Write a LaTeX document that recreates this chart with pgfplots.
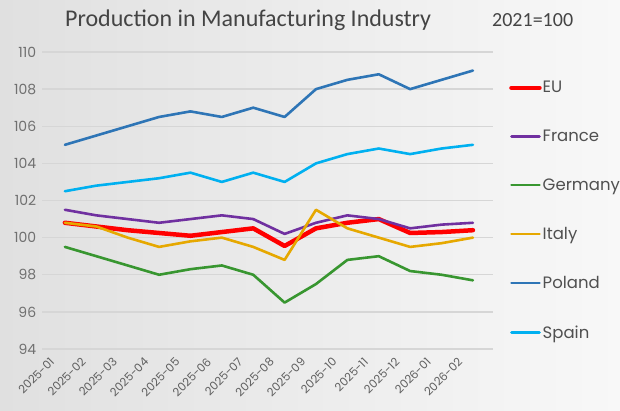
\documentclass[border=0pt]{standalone}
\usepackage{fontspec}
\setmainfont{Poppins}
\newfontfamily\titlefont{Carlito}
\usepackage{pgfplots}
\pgfplotsset{compat=1.18}
\usetikzlibrary{backgrounds,calc}

\definecolor{cEU}{RGB}{255,0,0}
\definecolor{cFR}{RGB}{112,48,160}
\definecolor{cDE}{RGB}{56,150,48}
\definecolor{cIT}{RGB}{230,168,0}
\definecolor{cPL}{RGB}{46,117,182}
\definecolor{cES}{RGB}{0,176,240}
\definecolor{ticktext}{RGB}{112,112,112}
\definecolor{xticktext}{RGB}{96,96,96}
\definecolor{legtext}{RGB}{80,80,80}
\definecolor{titletext}{RGB}{68,68,68}
\definecolor{gridc}{RGB}{214,214,214}
\definecolor{bgleft}{RGB}{224,224,224}
\definecolor{bgright}{RGB}{248,248,248}

\begin{document}
\begin{tikzpicture}[x=1pt,y=1pt]
\begin{axis}[
  scale only axis, width=451pt, height=297pt,
  xmin=-0.73, xmax=13.64, ymin=94, ymax=110,
  ytick={94,96,...,110},
  xtick={0,...,13},
  xticklabels={2025-01,2025-02,2025-03,2025-04,2025-05,2025-06,2025-07,2025-08,2025-09,2025-10,2025-11,2025-12,2026-01,2026-02},
  axis line style={draw=none},
  major tick length=0pt,
  ymajorgrids, grid style={gridc, line width=1.3pt},
  /pgf/number format/assume math mode=true,
  yticklabel style={font=\fontsize{14}{16}\selectfont, text=ticktext, xshift=-2.3pt},
  xticklabel style={font=\fontsize{11.5}{13}\selectfont, text=xticktext, xshift=-12pt, yshift=-10pt, rotate=45, anchor=east, inner sep=1pt},
  legend style={at={(1.0355,0.9085)}, anchor=north west, draw=none, fill=none,
     font=\fontsize{16.5}{19}\selectfont, text=legtext, row sep=31.5pt, inner sep=0pt,
     nodes={inner xsep=1pt}},
  legend cell align=left,
  legend image code/.code={\draw[#1] (0pt,0pt) -- (28pt,0pt);},
  every axis plot/.append style={line join=round, line cap=round},
]
\coordinate (O) at (rel axis cs:0,0);
\addplot[cEU, line width=4.5pt] coordinates {(0,100.8)(1,100.6)(2,100.4)(3,100.25)(4,100.1)(5,100.3)(6,100.5)(7,99.55)(8,100.5)(9,100.8)(10,101.0)(11,100.25)(12,100.3)(13,100.4)};
\addlegendentry{EU}
\addplot[cFR, line width=2.6pt] coordinates {(0,101.5)(1,101.2)(2,101.0)(3,100.8)(4,101.0)(5,101.2)(6,101.0)(7,100.2)(8,100.8)(9,101.2)(10,101.0)(11,100.5)(12,100.7)(13,100.8)};
\addlegendentry{France}
\addplot[cDE, line width=2.6pt] coordinates {(0,99.5)(1,99.0)(2,98.5)(3,98.0)(4,98.3)(5,98.5)(6,98.0)(7,96.5)(8,97.5)(9,98.8)(10,99.0)(11,98.2)(12,98.0)(13,97.7)};
\addlegendentry{Germany}
\addplot[cIT, line width=2.6pt] coordinates {(0,100.8)(1,100.6)(2,100.0)(3,99.5)(4,99.8)(5,100.0)(6,99.5)(7,98.8)(8,101.5)(9,100.5)(10,100.0)(11,99.5)(12,99.7)(13,100.0)};
\addlegendentry{Italy}
\addplot[cPL, line width=2.6pt] coordinates {(0,105.0)(1,105.5)(2,106.0)(3,106.5)(4,106.8)(5,106.5)(6,107.0)(7,106.5)(8,108.0)(9,108.5)(10,108.8)(11,108.0)(12,108.5)(13,109.0)};
\addlegendentry{Poland}
\addplot[cES, line width=2.6pt] coordinates {(0,102.5)(1,102.8)(2,103.0)(3,103.2)(4,103.5)(5,103.0)(6,103.5)(7,103.0)(8,104.0)(9,104.5)(10,104.8)(11,104.5)(12,104.8)(13,105.0)};
\addlegendentry{Spain}
\end{axis}
\coordinate (BL) at ($(O)+(-42,-61)$);
\begin{scope}[on background layer]
\shade[left color=bgleft, right color=bgright] (BL) rectangle ++(620,410);
\end{scope}
\node[font=\titlefont\fontsize{24}{28}\selectfont, text=titletext, anchor=base west, inner sep=0pt] at ($(BL)+(65,383.3)$) {Production in Manufacturing Industry};
\node[font=\titlefont\fontsize{20}{24}\selectfont, text=titletext, anchor=base west, inner sep=0pt] at ($(BL)+(492,383.3)$) {2021=100};
\pgfresetboundingbox
\useasboundingbox (BL) rectangle ++(620,410);
\end{tikzpicture}
\end{document}
